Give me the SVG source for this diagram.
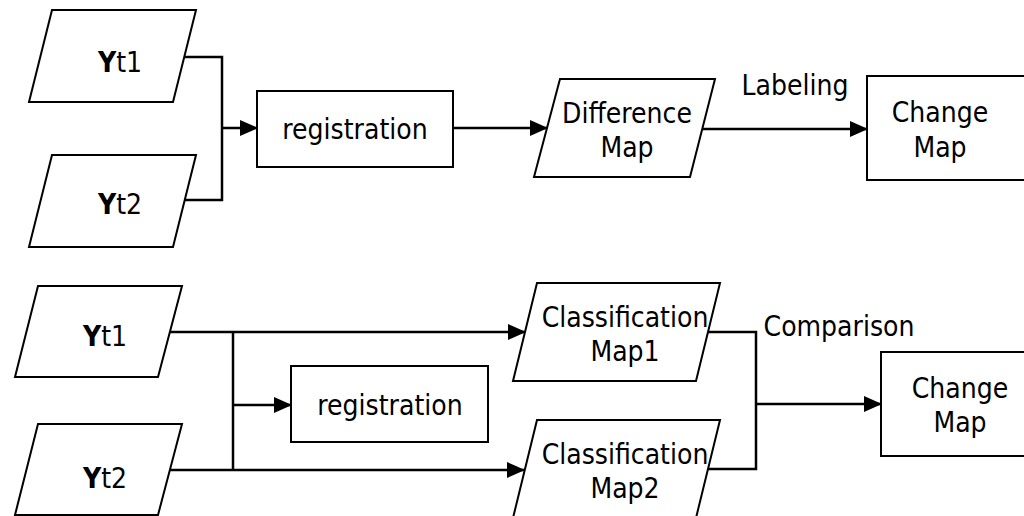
<svg xmlns="http://www.w3.org/2000/svg" width="1024" height="516" viewBox="0 0 1024 516">
<style>
.s{fill:#fff;stroke:#000;stroke-width:2}
.t{font-family:"DejaVu Sans Condensed","DejaVu Sans",sans-serif;font-stretch:condensed;font-size:28px;fill:#000;text-anchor:middle}
.b{font-weight:bold}
.c{fill:none;stroke:#000;stroke-width:2.5}
</style>
<defs>
<marker id="ah" markerWidth="18" markerHeight="16" refX="17" refY="8" orient="auto" markerUnits="userSpaceOnUse" viewBox="0 0 18 16">
<path d="M0,0 L18,8 L0,16 Z" fill="#000"/>
</marker>
</defs>
<rect width="1024" height="516" fill="#fff"/>
<g id="top-yt1"><polygon class="s" points="52,10 196,10 173,102 29,102"/><text class="t" x="120" y="72"><tspan class="b">Y</tspan>t1</text></g>
<g id="top-yt2"><polygon class="s" points="52,155 196,155 173,247 29,247"/><text class="t" x="120" y="214"><tspan class="b">Y</tspan>t2</text></g>
<g id="top-registration"><rect class="s" x="257" y="91" width="196" height="76"/><text class="t" x="355" y="139">registration</text></g>
<g id="difference-map"><polygon class="s" points="560,79 715,79 690,177 534,177"/><text class="t" x="627" y="123">Difference</text><text class="t" x="627" y="157">Map</text></g>
<g id="top-change-map"><rect class="s" x="867" y="76" width="170" height="104"/><text class="t" x="940" y="122">Change</text><text class="t" x="940" y="157">Map</text></g>
<g id="bot-yt1"><polygon class="s" points="38,286 182,286 158,377 15,377"/><text class="t" x="105" y="346"><tspan class="b">Y</tspan>t1</text></g>
<g id="bot-yt2"><polygon class="s" points="38,424 182,424 158,515 15,515"/><text class="t" x="105" y="488"><tspan class="b">Y</tspan>t2</text></g>
<g id="bot-registration"><rect class="s" x="291" y="366" width="197" height="76"/><text class="t" x="390" y="415">registration</text></g>
<g id="class-map1"><polygon class="s" points="537,283 720,283 696,381 513,381"/><text class="t" x="625" y="327">Classification</text><text class="t" x="625" y="361">Map1</text></g>
<g id="class-map2"><polygon class="s" points="537,420 720,420 696,518 513,518"/><text class="t" x="625" y="464">Classification</text><text class="t" x="625" y="498">Map2</text></g>
<g id="bot-change-map"><rect class="s" x="881" y="352" width="160" height="104"/><text class="t" x="960" y="398">Change</text><text class="t" x="960" y="432">Map</text></g>
<g id="connectors">
<polyline class="c" points="184,57 222,57 222,200 185,200"/>
<line class="c" x1="222" y1="128" x2="257" y2="128" marker-end="url(#ah)"/>
<line class="c" x1="453" y1="128" x2="547" y2="128" marker-end="url(#ah)"/>
<line class="c" x1="702" y1="129" x2="867" y2="129" marker-end="url(#ah)"/>
<line class="c" x1="170" y1="332" x2="525" y2="332" marker-end="url(#ah)"/>
<line class="c" x1="233" y1="332" x2="233" y2="470"/>
<line class="c" x1="170" y1="470" x2="524" y2="470" marker-end="url(#ah)"/>
<line class="c" x1="233" y1="405" x2="291" y2="405" marker-end="url(#ah)"/>
<polyline class="c" points="708,332 756,332 756,469 708,469"/>
<line class="c" x1="756" y1="404" x2="881" y2="404" marker-end="url(#ah)"/>
<text class="t" x="795" y="95">Labeling</text>
<text class="t" x="839" y="336">Comparison</text>
</g>
</svg>
